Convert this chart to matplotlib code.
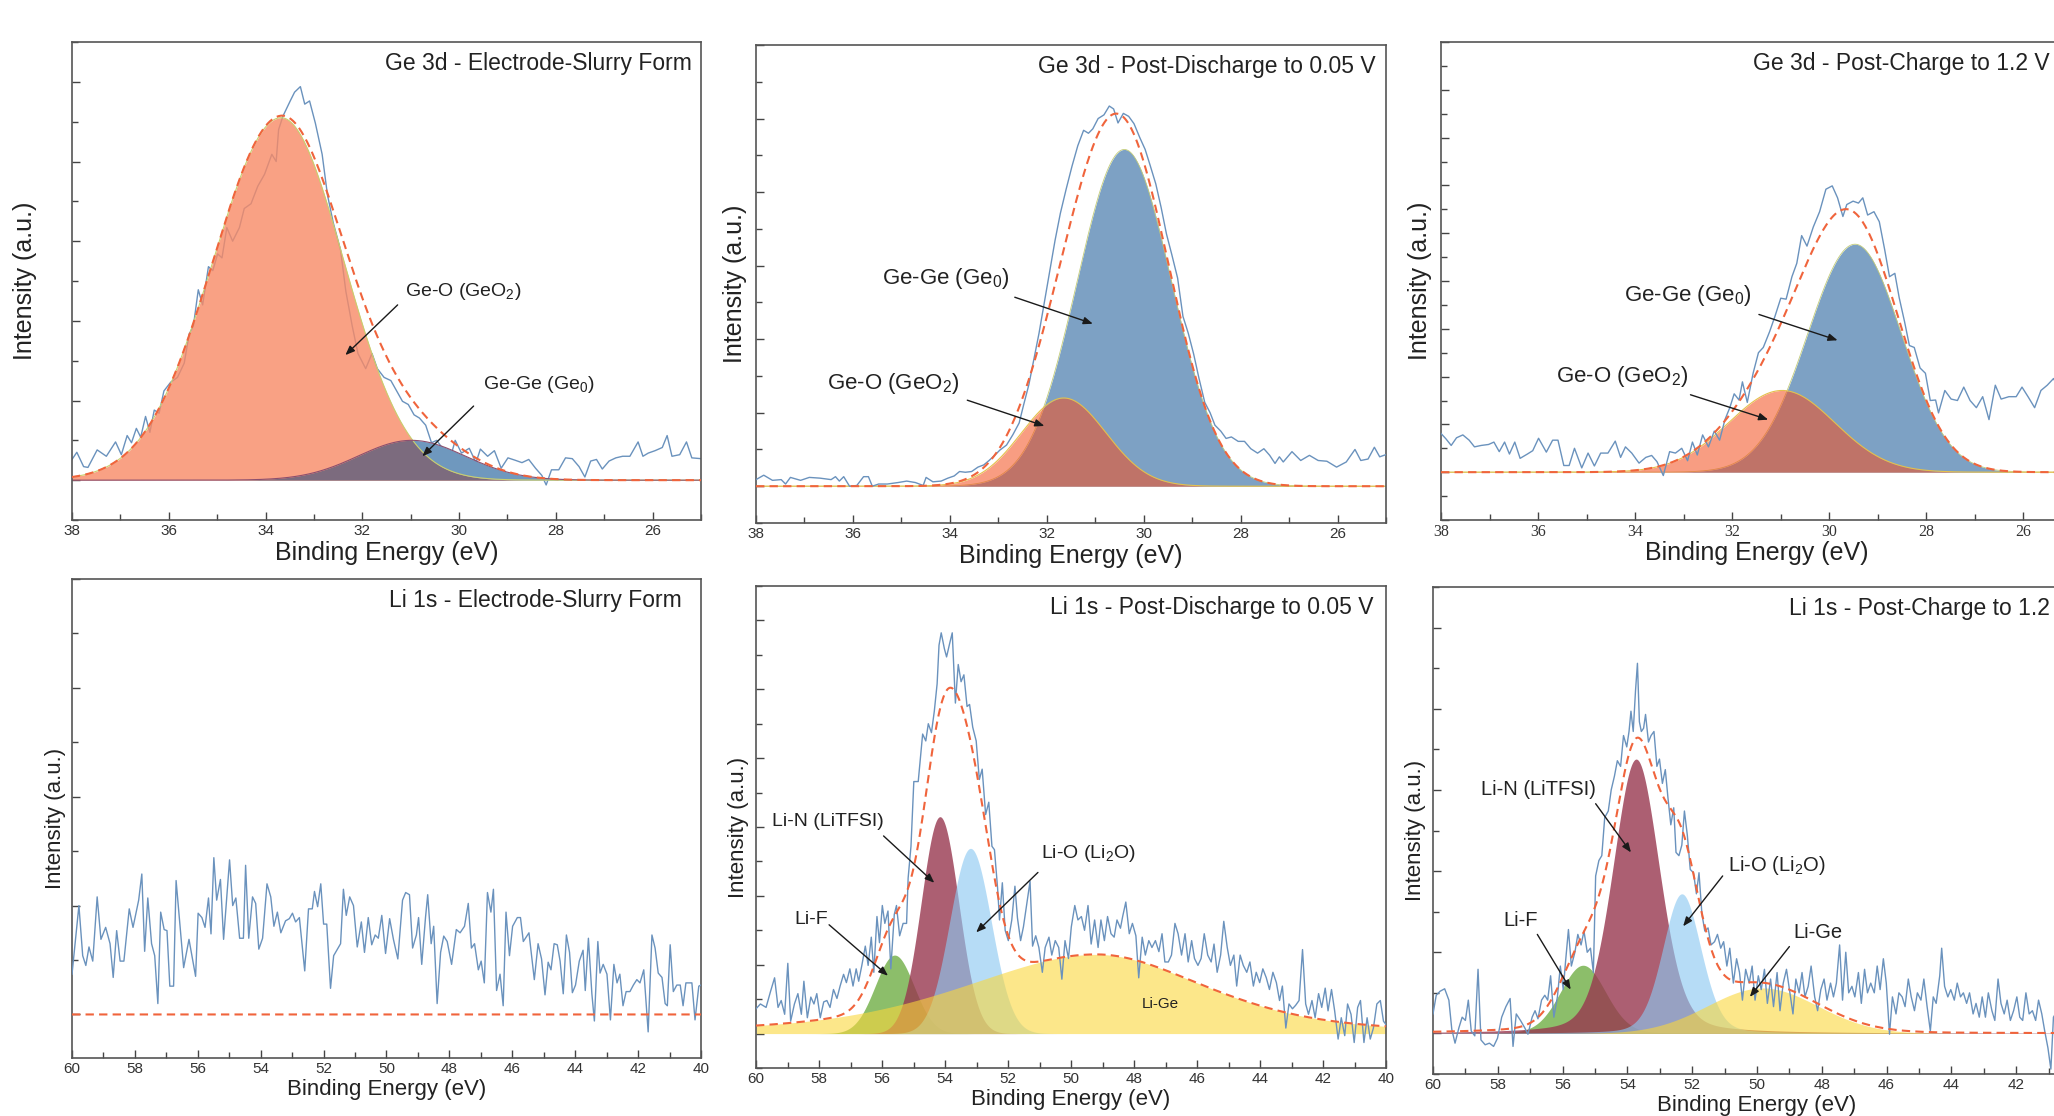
import numpy as np
import matplotlib.pyplot as plt
from matplotlib.ticker import MultipleLocator

plt.rcParams['font.family'] = ['Liberation Sans', 'DejaVu Sans']
plt.rcParams['mathtext.default'] = 'regular'

# ---------------- raw spectra: (binding energy eV, intensity a.u.) ----------------
ge_slurry_raw = [
    (38.0, 0.26), (37.9, 0.35), (37.76, 0.17), (37.67, 0.16), (37.48, 0.38), (37.29, 0.30), (37.1, 0.48),
    (36.98, 0.32), (36.86, 0.56), (36.77, 0.47), (36.67, 0.65), (36.58, 0.54), (36.48, 0.80), (36.39, 0.60),
    (36.3, 0.88), (36.2, 0.84), (36.1, 1.12), (35.96, 1.23), (35.82, 1.29), (35.68, 1.47), (35.58, 1.83),
    (35.49, 1.94), (35.39, 2.39), (35.3, 2.20), (35.18, 2.68), (35.09, 2.63), (34.99, 2.84), (34.9, 2.79),
    (34.8, 3.17), (34.68, 3.00), (34.54, 3.17), (34.44, 3.41), (34.3, 3.47), (34.16, 3.69), (34.02, 3.84),
    (33.87, 4.09), (33.78, 4.00), (33.73, 4.40), (33.64, 4.57), (33.49, 4.76), (33.4, 4.87), (33.28, 4.94),
    (33.19, 4.72), (33.09, 4.76), (32.97, 4.48), (32.83, 4.09), (32.72, 3.58), (32.6, 3.23), (32.45, 2.89),
    (32.34, 2.37), (32.21, 1.94), (32.09, 1.59), (31.93, 1.40), (31.8, 1.59), (31.69, 1.40), (31.55, 1.29),
    (31.41, 1.25), (31.29, 1.12), (31.17, 0.99), (31.05, 0.95), (30.93, 0.82), (30.82, 0.78), (30.69, 0.69),
    (30.57, 0.47), (30.46, 0.50), (30.31, 0.37), (30.19, 0.26), (30.08, 0.50), (29.95, 0.34), (29.79, 0.40),
    (29.65, 0.22), (29.56, 0.39), (29.41, 0.30), (29.27, 0.37), (29.13, 0.15), (28.99, 0.28), (28.84, 0.25),
    (28.7, 0.22), (28.56, 0.26), (28.42, 0.15), (28.29, 0.06), (28.2, -0.06), (28.09, 0.13), (27.94, 0.13),
    (27.8, 0.28), (27.66, 0.27), (27.52, 0.17), (27.4, 0.04), (27.28, 0.24), (27.16, 0.26), (27.04, 0.14),
    (26.9, 0.24), (26.76, 0.28), (26.62, 0.30), (26.47, 0.30), (26.3, 0.48), (26.2, 0.30), (26.09, 0.34),
    (25.95, 0.37), (25.8, 0.41), (25.7, 0.56), (25.6, 0.30), (25.44, 0.32), (25.3, 0.48), (25.19, 0.28),
    (25.0, 0.27),
]

ge_discharge_raw = [
    (38.0, 0.09), (37.84, 0.15), (37.66, 0.08), (37.48, 0.09), (37.39, 0.03), (37.29, 0.12), (37.08, 0.08),
    (36.9, 0.12), (36.68, 0.11), (36.45, 0.09), (36.36, 0.13), (36.28, 0.07), (36.19, 0.13), (36.07, 0.0),
    (35.92, 0.01), (35.78, 0.13), (35.68, 0.13), (35.6, 0.0), (35.47, 0.03), (35.29, 0.03), (35.07, 0.05),
    (34.89, 0.07), (34.71, 0.05), (34.55, 0.01), (34.49, 0.12), (34.35, 0.06), (34.18, 0.07), (34.04, 0.11),
    (33.91, 0.14), (33.8, 0.20), (33.68, 0.19), (33.55, 0.20), (33.42, 0.26), (33.3, 0.29), (33.19, 0.35),
    (33.06, 0.43), (32.97, 0.49), (32.83, 0.56), (32.7, 0.70), (32.57, 0.86), (32.48, 1.10), (32.37, 1.38),
    (32.28, 1.68), (32.16, 2.08), (32.05, 2.50), (31.94, 2.92), (31.83, 3.34), (31.72, 3.71), (31.6, 4.04),
    (31.48, 4.35), (31.36, 4.63), (31.24, 4.84), (31.14, 4.80), (31.05, 4.86), (30.94, 5.00), (30.82, 5.05),
    (30.71, 5.17), (30.62, 5.13), (30.53, 4.94), (30.42, 5.07), (30.31, 5.03), (30.2, 4.93), (30.08, 4.74),
    (29.97, 4.58), (29.87, 4.37), (29.75, 4.11), (29.64, 3.79), (29.53, 3.43), (29.42, 3.15), (29.3, 2.83),
    (29.19, 2.31), (29.08, 2.08), (28.97, 1.80), (28.86, 1.47), (28.74, 1.14), (28.63, 1.00), (28.53, 0.83),
    (28.41, 0.75), (28.3, 0.65), (28.19, 0.67), (28.05, 0.61), (27.92, 0.61), (27.79, 0.51), (27.65, 0.45),
    (27.52, 0.51), (27.4, 0.42), (27.29, 0.31), (27.2, 0.40), (27.12, 0.33), (26.94, 0.47), (26.76, 0.35),
    (26.58, 0.42), (26.4, 0.35), (26.22, 0.34), (26.02, 0.26), (25.82, 0.33), (25.64, 0.50), (25.52, 0.35),
    (25.37, 0.37), (25.24, 0.53), (25.13, 0.40), (25.0, 0.43),
]

ge_charge_raw = [
    (38.0, 0.81), (37.9, 0.70), (37.79, 0.56), (37.68, 0.72), (37.55, 0.78), (37.42, 0.67), (37.31, 0.53),
    (37.17, 0.56), (37.02, 0.58), (36.91, 0.63), (36.8, 0.43), (36.69, 0.63), (36.59, 0.38), (36.48, 0.63),
    (36.37, 0.29), (36.22, 0.38), (36.11, 0.45), (35.99, 0.71), (35.83, 0.42), (35.7, 0.67), (35.59, 0.67),
    (35.47, 0.14), (35.36, 0.14), (35.25, 0.50), (35.1, 0.09), (34.97, 0.40), (34.84, 0.13), (34.71, 0.40),
    (34.56, 0.40), (34.41, 0.65), (34.3, 0.31), (34.2, 0.53), (34.07, 0.40), (33.92, 0.19), (33.78, 0.31),
    (33.66, 0.35), (33.55, 0.22), (33.42, -0.07), (33.29, 0.43), (33.17, 0.40), (33.04, 0.50), (32.92, 0.24),
    (32.82, 0.63), (32.72, 0.36), (32.61, 0.78), (32.49, 0.53), (32.37, 0.86), (32.26, 0.67), (32.15, 1.10),
    (32.05, 1.35), (31.96, 1.64), (31.86, 1.51), (31.79, 1.89), (31.69, 1.46), (31.57, 2.07), (31.46, 2.50),
    (31.36, 2.61), (31.23, 2.94), (31.12, 3.26), (31.0, 3.64), (30.89, 3.62), (30.77, 4.09), (30.67, 4.37),
    (30.57, 4.95), (30.46, 4.73), (30.33, 5.13), (30.2, 5.45), (30.07, 5.92), (29.94, 5.99), (29.83, 5.74),
    (29.72, 5.35), (29.64, 5.60), (29.51, 5.67), (29.4, 5.63), (29.31, 5.74), (29.21, 5.38), (29.08, 5.45),
    (28.97, 5.24), (28.86, 4.66), (28.76, 4.09), (28.65, 4.16), (28.56, 3.65), (28.45, 3.15), (28.35, 2.65),
    (28.25, 2.61), (28.13, 2.18), (28.02, 2.07), (27.92, 1.50), (27.81, 1.51), (27.75, 1.24), (27.62, 1.71),
    (27.49, 1.53), (27.36, 1.50), (27.23, 1.78), (27.1, 1.50), (26.97, 1.35), (26.84, 1.58), (26.71, 1.10),
    (26.58, 1.82), (26.46, 1.53), (26.3, 1.58), (26.15, 1.58), (26.03, 1.78), (25.9, 1.57), (25.77, 1.35),
    (25.64, 1.71), (25.51, 1.82), (25.38, 1.96), (25.25, 1.70), (25.1, 1.85), (25.0, 1.75),
]

li_slurry_raw = [
    (60.0, 0.37), (59.78, 1.00), (59.66, 0.54), (59.56, 0.45), (59.46, 0.62), (59.34, 0.49), (59.2, 1.08),
    (59.08, 0.69), (58.93, 0.80), (58.79, 0.65), (58.69, 0.34), (58.58, 0.77), (58.47, 0.49), (58.35, 0.49),
    (58.18, 0.97), (58.06, 0.80), (57.88, 1.05), (57.78, 1.29), (57.69, 0.58), (57.59, 1.07), (57.47, 0.65),
    (57.37, 0.54), (57.27, 0.10), (57.18, 0.94), (57.07, 0.78), (56.98, 0.77), (56.89, 0.26), (56.77, 0.26),
    (56.69, 1.23), (56.57, 0.83), (56.45, 0.43), (56.28, 0.69), (56.07, 0.35), (55.99, 0.93), (55.87, 0.89),
    (55.77, 0.80), (55.66, 1.07), (55.58, 0.74), (55.49, 1.44), (55.4, 1.05), (55.28, 1.24), (55.18, 0.69),
    (55.08, 1.07), (54.99, 1.42), (54.89, 1.00), (54.79, 1.07), (54.67, 0.70), (54.55, 0.70), (54.48, 1.37),
    (54.38, 0.70), (54.26, 1.08), (54.16, 1.02), (54.06, 0.60), (53.94, 0.70), (53.8, 1.20), (53.68, 1.08),
    (53.58, 0.81), (53.47, 0.94), (53.36, 0.75), (53.21, 0.86), (53.09, 0.88), (52.99, 0.93), (52.89, 0.85),
    (52.77, 0.89), (52.6, 0.40), (52.48, 0.97), (52.36, 0.97), (52.29, 1.13), (52.19, 0.99), (52.09, 1.20),
    (52.0, 0.83), (51.9, 0.83), (51.78, 0.24), (51.68, 0.54), (51.58, 0.59), (51.46, 0.65), (51.37, 1.15),
    (51.28, 0.91), (51.17, 1.08), (51.05, 1.00), (50.93, 0.62), (50.8, 0.85), (50.7, 0.57), (50.58, 0.89),
    (50.47, 0.64), (50.36, 0.73), (50.26, 0.70), (50.15, 0.91), (50.03, 0.56), (49.9, 0.88), (49.78, 0.69),
    (49.64, 0.51), (49.49, 1.05), (49.39, 1.12), (49.27, 1.10), (49.17, 0.61), (49.05, 0.73), (48.98, 0.89),
    (48.88, 0.46), (48.76, 0.89), (48.69, 1.10), (48.58, 0.65), (48.5, 0.81), (48.39, 0.10), (48.28, 0.57),
    (48.18, 0.72), (48.07, 0.67), (47.93, 0.46), (47.78, 0.78), (47.66, 0.75), (47.52, 0.81), (47.4, 1.02),
    (47.3, 0.61), (47.2, 0.65), (47.08, 0.41), (46.99, 0.49), (46.89, 0.29), (46.79, 1.12), (46.68, 0.94),
    (46.6, 1.15), (46.5, 0.22), (46.39, 0.37), (46.29, 0.08), (46.2, 0.94), (46.09, 0.54), (45.99, 0.81),
    (45.84, 0.89), (45.74, 0.89), (45.65, 0.67), (45.47, 0.75), (45.3, 0.32), (45.18, 0.65), (45.07, 0.51),
    (44.96, 0.18), (44.86, 0.48), (44.77, 0.41), (44.67, 0.65), (44.57, 0.64), (44.48, 0.49), (44.38, 0.19),
    (44.28, 0.73), (44.18, 0.57), (44.09, 0.20), (43.99, 0.27), (43.87, 0.49), (43.75, 0.59), (43.68, 0.22),
    (43.58, 0.70), (43.47, 0.19), (43.39, -0.06), (43.28, 0.67), (43.21, 0.38), (43.11, 0.46), (42.99, 0.37),
    (42.88, -0.05), (42.77, 0.46), (42.67, 0.29), (42.58, 0.37), (42.48, 0.08), (42.38, 0.21), (42.26, 0.21),
    (42.15, 0.27), (42.04, 0.32), (41.94, 0.29), (41.82, 0.41), (41.75, 0.13), (41.68, -0.16), (41.56, 0.73),
    (41.46, 0.61), (41.36, 0.38), (41.24, 0.34), (41.14, 0.10), (41.07, 0.08), (40.98, 0.64), (40.88, 0.21),
    (40.77, 0.27), (40.66, 0.27), (40.57, 0.08), (40.48, 0.29), (40.36, 0.29), (40.29, 0.29), (40.19, -0.05),
    (40.07, 0.26), (40.0, 0.27),
]

li_discharge_raw = [
    (60.0, 0.36), (59.86, 0.43), (59.68, 0.38), (59.54, 0.61), (59.41, 0.81), (59.3, 0.38), (59.2, 0.48),
    (59.09, 0.28), (58.99, 1.02), (58.9, 0.18), (58.78, 0.43), (58.67, 0.58), (58.56, 0.28), (58.48, 0.76),
    (58.37, 0.23), (58.26, 0.53), (58.16, 0.43), (58.07, 0.58), (57.96, 0.23), (57.85, 0.46), (57.75, 0.48),
    (57.65, 0.38), (57.54, 0.64), (57.43, 0.51), (57.33, 0.69), (57.22, 0.86), (57.13, 0.74), (57.02, 0.94),
    (56.92, 0.69), (56.82, 0.94), (56.74, 0.76), (56.64, 0.99), (56.53, 1.27), (56.44, 0.99), (56.34, 1.40),
    (56.26, 0.89), (56.16, 1.70), (56.08, 1.32), (55.99, 1.86), (55.91, 1.60), (55.81, 1.78), (55.72, 0.94),
    (55.61, 1.73), (55.54, 1.86), (55.44, 1.42), (55.33, 1.60), (55.22, 1.60), (55.17, 2.26), (55.08, 2.72),
    (54.99, 3.66), (54.85, 3.66), (54.71, 4.35), (54.61, 4.25), (54.53, 4.50), (54.43, 4.37), (54.34, 4.68),
    (54.25, 5.08), (54.19, 5.64), (54.12, 5.82), (54.02, 5.59), (53.95, 5.47), (53.85, 5.67), (53.77, 5.82),
    (53.67, 4.80), (53.58, 5.36), (53.49, 5.11), (53.4, 5.21), (53.3, 4.75), (53.22, 4.78), (53.12, 4.45),
    (53.01, 4.25), (52.91, 3.69), (52.82, 3.84), (52.71, 3.18), (52.61, 3.36), (52.51, 2.72), (52.43, 2.67),
    (52.33, 2.11), (52.27, 1.65), (52.18, 2.19), (52.09, 1.50), (51.99, 1.35), (51.88, 1.65), (51.78, 2.14),
    (51.7, 1.68), (51.6, 1.35), (51.51, 1.55), (51.39, 1.93), (51.3, 2.21), (51.22, 1.27), (51.12, 1.42),
    (51.02, 1.25), (50.91, 0.89), (50.82, 1.25), (50.7, 1.40), (50.61, 1.14), (50.5, 1.35), (50.39, 1.25),
    (50.29, 0.79), (50.19, 1.35), (50.08, 1.09), (49.99, 1.55), (49.88, 1.86), (49.78, 1.65), (49.67, 1.70),
    (49.57, 1.50), (49.46, 1.86), (49.36, 1.30), (49.25, 1.65), (49.14, 1.25), (49.05, 1.65), (48.94, 1.35),
    (48.84, 1.70), (48.73, 1.45), (48.63, 1.40), (48.54, 1.65), (48.43, 1.53), (48.36, 1.70), (48.26, 1.91),
    (48.15, 1.45), (48.05, 1.60), (47.94, 1.42), (47.85, 0.81), (47.74, 1.40), (47.64, 1.14), (47.53, 1.35),
    (47.43, 1.25), (47.32, 1.35), (47.21, 1.19), (47.11, 1.45), (47.02, 1.04), (46.91, 1.04), (46.81, 1.14),
    (46.7, 1.60), (46.6, 1.45), (46.49, 1.14), (46.38, 1.45), (46.28, 1.04), (46.17, 1.35), (46.08, 1.09),
    (45.97, 0.99), (45.87, 1.09), (45.77, 1.45), (45.66, 1.14), (45.55, 1.04), (45.46, 1.30), (45.36, 0.89),
    (45.25, 1.14), (45.15, 1.63), (45.04, 1.25), (44.94, 0.99), (44.83, 1.14), (44.74, 0.69), (44.63, 1.14),
    (44.53, 0.99), (44.42, 0.89), (44.32, 1.04), (44.21, 0.69), (44.12, 0.89), (44.01, 0.74), (43.91, 0.94),
    (43.8, 0.81), (43.7, 0.64), (43.59, 0.89), (43.48, 0.74), (43.38, 0.48), (43.29, 0.69), (43.18, 0.08),
    (43.08, 0.43), (42.97, 0.36), (42.87, 0.41), (42.76, 0.48), (42.65, 1.22), (42.55, 0.43), (42.46, 0.28),
    (42.35, 0.48), (42.25, 0.23), (42.14, 0.58), (42.04, 0.38), (41.93, 0.66), (41.84, 0.33), (41.73, 0.64),
    (41.63, 0.33), (41.52, -0.08), (41.42, 0.23), (41.31, -0.03), (41.22, 0.43), (41.11, 0.28), (41.01, -0.13),
    (40.9, 0.38), (40.81, 0.48), (40.7, -0.13), (40.6, 0.23), (40.5, -0.08), (40.4, 0.08), (40.29, 0.43),
    (40.18, 0.48), (40.08, 0.18), (40.0, 0.13),
]

li_charge_raw = [
    (60.0, 0.24), (59.9, 0.47), (59.78, 0.52), (59.64, 0.55), (59.51, 0.41), (59.42, 0.05), (59.32, -0.12),
    (59.2, 0.07), (59.1, 0.20), (59.0, 0.16), (58.91, 0.41), (58.82, 0.03), (58.71, -0.03), (58.61, 0.79),
    (58.52, -0.08), (58.39, -0.14), (58.26, -0.12), (58.13, -0.16), (58.01, -0.06), (57.88, 0.20), (57.75, 0.33),
    (57.62, 0.43), (57.53, -0.16), (57.43, 0.24), (57.3, 0.16), (57.17, 0.07), (57.07, -0.01), (56.94, 0.20),
    (56.85, 0.28), (56.76, 0.18), (56.65, 0.41), (56.55, 0.47), (56.46, 0.41), (56.37, 0.71), (56.27, 0.20),
    (56.16, 0.45), (56.07, 0.83), (55.98, 0.54), (55.91, 0.88), (55.82, 1.28), (55.73, 0.83), (55.62, 1.00),
    (55.53, 1.22), (55.43, 1.09), (55.34, 1.26), (55.24, 1.00), (55.14, 1.05), (55.05, 0.75), (54.98, 1.94),
    (54.88, 2.13), (54.79, 2.19), (54.7, 2.66), (54.59, 2.74), (54.5, 3.00), (54.4, 3.17), (54.31, 3.36),
    (54.21, 3.29), (54.12, 3.67), (54.02, 3.53), (53.95, 3.72), (53.89, 3.97), (53.82, 3.72), (53.75, 4.22),
    (53.69, 4.56), (53.63, 3.84), (53.57, 3.72), (53.5, 3.76), (53.44, 3.93), (53.35, 3.59), (53.27, 3.67),
    (53.18, 3.72), (53.09, 3.29), (53.01, 3.38), (52.92, 3.08), (52.83, 3.25), (52.75, 2.91), (52.66, 2.57),
    (52.57, 2.78), (52.5, 2.23), (52.41, 2.19), (52.32, 2.32), (52.24, 2.74), (52.15, 2.44), (52.06, 2.02),
    (51.96, 1.98), (51.87, 1.72), (51.79, 1.98), (51.7, 1.47), (51.61, 1.26), (51.51, 1.30), (51.42, 1.09),
    (51.31, 1.13), (51.22, 1.22), (51.12, 1.05), (51.03, 1.13), (50.93, 0.83), (50.84, 1.05), (50.73, 0.62),
    (50.63, 0.92), (50.54, 0.75), (50.45, 0.41), (50.35, 0.79), (50.24, 0.62), (50.15, 0.83), (50.06, 0.41),
    (49.96, 0.71), (49.87, 0.54), (49.77, 0.79), (49.68, 0.37), (49.58, 0.67), (49.49, 0.33), (49.38, 0.75),
    (49.29, 0.28), (49.19, 0.62), (49.09, 0.79), (49.0, 0.54), (48.89, 0.24), (48.8, 0.67), (48.7, 0.50),
    (48.61, 0.75), (48.52, 0.45), (48.42, 0.58), (48.33, 0.83), (48.22, 0.45), (48.13, 0.28), (48.03, 0.54),
    (47.93, 0.67), (47.84, 0.41), (47.73, 0.62), (47.64, 0.45), (47.55, 0.62), (47.45, 1.09), (47.36, 0.41),
    (47.26, 1.00), (47.17, 0.50), (47.07, 0.58), (46.98, 0.45), (46.87, 0.75), (46.78, 0.37), (46.68, 0.79),
    (46.59, 0.50), (46.49, 0.62), (46.38, 0.50), (46.29, 0.83), (46.2, 0.54), (46.1, 0.92), (46.01, 0.62),
    (45.91, -0.01), (45.82, 0.45), (45.71, 0.24), (45.62, 0.50), (45.52, 0.45), (45.43, 0.33), (45.33, 0.67),
    (45.24, 0.45), (45.14, 0.28), (45.05, 0.50), (44.94, 0.41), (44.85, 0.67), (44.75, 0.33), (44.65, 0.03),
    (44.56, 0.45), (44.47, 0.37), (44.36, 0.71), (44.3, 1.05), (44.21, 0.58), (44.11, 0.45), (44.02, 0.54),
    (43.91, 0.41), (43.82, 0.62), (43.72, 0.45), (43.63, 0.50), (43.53, 0.37), (43.44, 0.50), (43.33, 0.24),
    (43.24, 0.37), (43.14, 0.20), (43.05, 0.45), (42.95, 0.20), (42.86, 0.50), (42.75, 0.28), (42.66, 0.16),
    (42.56, 0.67), (42.47, 0.37), (42.37, 0.24), (42.28, 0.41), (42.18, 0.16), (42.08, 0.28), (41.98, 0.45),
    (41.89, 0.20), (41.8, 0.16), (41.7, 0.50), (41.6, 0.24), (41.5, 0.28), (41.4, 0.16), (41.31, 0.41),
    (41.21, 0.24), (41.12, 0.03), (41.02, -0.18), (40.93, -0.44), (40.85, 0.20), (40.7, 0.30), (40.5, 0.15),
    (40.3, 0.35), (40.1, 0.20), (40.0, 0.25),
]

# ---------------- fitted components ----------------
# per panel: component names, centre (eV), height, FWHM high-BE side, FWHM low-BE side, Lorentzian fraction
ge_slurry_names = ['Ge-O', 'Ge-Ge']
ge_slurry_centre = [33.68, 30.98]
ge_slurry_height = [4.55, 0.50]
ge_slurry_fwhm_hi = [3.30, 2.60]
ge_slurry_fwhm_lo = [3.05, 2.60]
ge_slurry_eta = [0.0, 0.0]

ge_discharge_names = ['Ge-Ge', 'Ge-O']
ge_discharge_centre = [30.40, 31.65]
ge_discharge_height = [4.58, 1.20]
ge_discharge_fwhm_hi = [2.30, 2.05]
ge_discharge_fwhm_lo = [2.30, 2.05]
ge_discharge_eta = [0.0, 0.0]

ge_charge_names = ['Ge-Ge', 'Ge-O']
ge_charge_centre = [29.47, 30.97]
ge_charge_height = [4.77, 1.71]
ge_charge_fwhm_hi = [2.30, 2.60]
ge_charge_fwhm_lo = [2.25, 2.55]
ge_charge_eta = [0.0, 0.0]

li_discharge_names = ['Li-F', 'Li-N', 'Li-O', 'Li-Ge']
li_discharge_centre = [55.60, 54.16, 53.19, 49.20]
li_discharge_height = [1.14, 3.15, 2.69, 1.15]
li_discharge_fwhm_hi = [1.45, 1.40, 1.55, 10.0]
li_discharge_fwhm_lo = [1.45, 1.40, 1.55, 8.2]
li_discharge_eta = [0.0, 0.0, 0.0, 0.45]

li_charge_names = ['Li-F', 'Li-N', 'Li-O', 'Li-Ge']
li_charge_centre = [55.37, 53.73, 52.32, 49.83]
li_charge_height = [0.84, 3.38, 1.72, 0.56]
li_charge_fwhm_hi = [1.65, 1.70, 1.40, 4.0]
li_charge_fwhm_lo = [1.65, 1.70, 1.40, 4.0]
li_charge_eta = [0.1, 0.25, 0.2, 0.0]


def peak(x, c, h, w_hi, w_lo, eta):
    w = np.where(x >= c, w_hi, w_lo)
    u = (x - c) / w
    return h * ((1 - eta) * np.exp(-4 * np.log(2) * u ** 2) + eta / (1 + 4 * u ** 2))


def components(x, centre, height, w_hi, w_lo, eta):
    return [peak(x, *p) for p in zip(centre, height, w_hi, w_lo, eta)]


W, H = 2054, 1116
fig = plt.figure(figsize=(W / 100, H / 100), dpi=100)


def box(left, top, right, bottom):
    return fig.add_axes([left / W, 1 - bottom / H, (right - left) / W, (bottom - top) / H])


RAW = '#6a92bd'
ENV = '#f0643c'
ARROW = dict(arrowstyle='-|>,head_length=0.55,head_width=0.22', color='#1a1a1a', lw=1.0,
             shrinkA=0, shrinkB=0)


def style(ax, xlim, ylim, title, title_x, lab_fs, ylab_x, serif_ticks=False):
    ax.set_xlim(*xlim)
    ax.set_ylim(*ylim)
    ax.xaxis.set_major_locator(MultipleLocator(2))
    ax.xaxis.set_minor_locator(MultipleLocator(1))
    ax.yaxis.set_major_locator(MultipleLocator(1))
    ax.yaxis.set_minor_locator(MultipleLocator(0.5))
    ax.tick_params(which='both', direction='in', top=False, right=False, labelleft=False,
                   color='#444', width=1.0)
    ax.tick_params(which='major', length=6)
    ax.tick_params(which='minor', length=4)
    ax.tick_params(axis='x', labelsize=11, pad=3, labelcolor='#333')
    if serif_ticks:
        ax.tick_params(axis='x', labelfontfamily='Liberation Serif', labelsize=11.5)
    for s in ax.spines.values():
        s.set_color('#555')
        s.set_linewidth(1.2)
    ax.set_xlabel('Binding Energy (eV)', fontsize=lab_fs, color='#222')
    ax.set_ylabel('Intensity (a.u.)', fontsize=lab_fs, color='#222')
    ax.xaxis.set_label_coords(0.5, -0.043)
    ax.yaxis.set_label_coords(ylab_x, 0.5)
    ax.text(title_x, 0.955, title, transform=ax.transAxes, ha='right', va='center',
            fontsize=16.5, color='#222')


def note(ax, text, pos, tail, tip, fs):
    ax.text(pos[0], pos[1], text, ha='left', va='center', fontsize=fs, color='#222', zorder=6)
    if tail is not None:
        ax.annotate('', xy=tip, xytext=tail, arrowprops=ARROW, zorder=6)


xg = np.linspace(38, 25, 900)
xl = np.linspace(60, 40, 1200)

# ---------------- Ge 3d - electrode slurry ----------------
ax = box(72, 42, 701, 520)
be, it = np.array(ge_slurry_raw).T
geo, gege = components(xg, ge_slurry_centre, ge_slurry_height, ge_slurry_fwhm_hi,
                       ge_slurry_fwhm_lo, ge_slurry_eta)
ax.plot(be, it, color=RAW, lw=1.0, zorder=1)
ax.fill_between(xg, 0, geo, color='#f88a66', alpha=0.8, lw=0, zorder=2)
ax.fill_between(xg, geo, gege, where=gege > geo, color='#6f98be', lw=0, zorder=2.1)
ax.fill_between(xg, 0, np.minimum(geo, gege), color='#7c6b7e', lw=0, zorder=2.2)
ax.plot(xg, geo, color='#c8cf6e', lw=0.8, zorder=2.3)
ax.plot(xg, gege, color='#8c4f6e', lw=0.8, zorder=2.3)
ax.plot(xg, geo + gege, color=ENV, lw=1.5, ls=(0, (4, 2.5)), zorder=4)
style(ax, (38, 25), (-0.5, 5.5), 'Ge 3d - Electrode-Slurry Form', 0.985, 18, -0.056)
note(ax, 'Ge-O (GeO$_2$)', (31.12, 2.37), (31.27, 2.2), (32.35, 1.57), 14)
note(ax, 'Ge-Ge (Ge$_0$)', (29.5, 1.2), (29.7, 0.93), (30.76, 0.30), 14)

# ---------------- Ge 3d - post discharge / post charge ----------------
ge_sets = [
    ((756, 45, 1386, 523), ge_discharge_raw, ge_discharge_centre, ge_discharge_height,
     ge_discharge_fwhm_hi, ge_discharge_fwhm_lo, ge_discharge_eta, (-0.5, 6.0),
     'Ge 3d - Post-Discharge to 0.05 V', 0.983, False),
    ((1441, 42, 2072, 520), ge_charge_raw, ge_charge_centre, ge_charge_height,
     ge_charge_fwhm_hi, ge_charge_fwhm_lo, ge_charge_eta, (-1.0, 9.0),
     'Ge 3d - Post-Charge to 1.2 V', 0.965, True),
]
ge_axes = []
for rect, raw, c, h, whi, wlo, eta, ylim, title, tx, serif in ge_sets:
    ax = box(*rect)
    be, it = np.array(raw).T
    gege, geo = components(xg, c, h, whi, wlo, eta)
    ax.plot(be, it, color=RAW, lw=1.0, zorder=3)
    ax.fill_between(xg, 0, gege, color='#7da1c4', lw=0, zorder=2)
    ax.plot(xg, gege, color='#c3cc7a', lw=0.6, zorder=2.1)
    ax.fill_between(xg, 0, geo, color='#f45020', alpha=0.56, lw=0, zorder=2.2)
    ax.plot(xg, geo, color='#e5c04c', lw=0.8, zorder=2.3)
    ax.plot(xg, geo + gege, color=ENV, lw=1.5, ls=(0, (4, 2.5)), zorder=4)
    style(ax, (38, 25), ylim, title, tx, 18, -0.014, serif_ticks=serif)
    ge_axes.append(ax)

note(ge_axes[0], 'Ge-Ge (Ge$_0$)', (35.41, 2.83), (32.66, 2.57), (31.05, 2.21), 16)
note(ge_axes[0], 'Ge-O (GeO$_2$)', (36.54, 1.40), (33.64, 1.17), (32.05, 0.82), 16)
note(ge_axes[1], 'Ge-Ge (Ge$_0$)', (34.24, 3.69), (31.45, 3.30), (29.83, 2.76), 16)
note(ge_axes[1], 'Ge-O (GeO$_2$)', (35.64, 2.00), (32.86, 1.62), (31.26, 1.10), 16)

# ---------------- Li 1s - electrode slurry ----------------
ax = box(72, 579, 701, 1058)
be, it = np.array(li_slurry_raw).T
ax.plot(be, it, color=RAW, lw=1.0, zorder=3)
ax.plot(xl, np.zeros_like(xl), color=ENV, lw=1.5, ls=(0, (4, 2.5)), zorder=4)
style(ax, (60, 40), (-0.4, 4.0), 'Li 1s - Electrode-Slurry Form', 0.97, 16, -0.010)

# ---------------- Li 1s - post discharge / post charge ----------------
li_colors = [('#78b350', 0.85), ('#98374f', 0.8), ('#8cc9f2', 0.63), ('#fad73c', 0.6)]
li_sets = [
    ((756, 586, 1386, 1068), li_discharge_raw, li_discharge_centre, li_discharge_height,
     li_discharge_fwhm_hi, li_discharge_fwhm_lo, li_discharge_eta, (-0.5, 6.5),
     'Li 1s - Post-Discharge to 0.05 V', 0.98),
    ((1433, 587, 2081, 1074), li_charge_raw, li_charge_centre, li_charge_height,
     li_charge_fwhm_hi, li_charge_fwhm_lo, li_charge_eta, (-0.5, 5.5),
     'Li 1s - Post-Charge to 1.2 V', 0.985),
]
li_axes = []
for rect, raw, c, h, whi, wlo, eta, ylim, title, tx in li_sets:
    ax = box(*rect)
    be, it = np.array(raw).T
    comps = components(xl, c, h, whi, wlo, eta)
    ax.plot(be, it, color=RAW, lw=1.0, zorder=3)
    for k, (y, (col, a)) in enumerate(zip(comps, li_colors)):
        ax.fill_between(xl, 0, y, color=col, alpha=a, lw=0, zorder=2 + 0.1 * k)
    ax.plot(xl, np.sum(comps, axis=0), color=ENV, lw=1.5, ls=(0, (4, 2.5)), zorder=4)
    style(ax, (60, 40), ylim, title, tx, 16, -0.011)
    li_axes.append(ax)

a5, a6 = li_axes
note(a5, 'Li-N (LiTFSI)', (59.5, 3.08), (55.95, 2.87), (54.34, 2.19), 14)
note(a5, 'Li-O (Li$_2$O)', (50.95, 2.62), (51.05, 2.34), (53.01, 1.47), 14)
note(a5, 'Li-F', (58.78, 1.65), (57.68, 1.58), (55.81, 0.84), 14)
note(a5, 'Li-Ge', (47.75, 0.43), None, None, 11)
note(a6, 'Li-N (LiTFSI)', (58.52, 3.0), (54.98, 2.83), (53.89, 2.23), 14.5)
note(a6, 'Li-O (Li$_2$O)', (50.89, 2.07), (51.06, 1.94), (52.28, 1.32), 14.5)
note(a6, 'Li-F', (57.84, 1.39), (56.78, 1.22), (55.75, 0.54), 14.5)
note(a6, 'Li-Ge', (48.87, 1.24), (49.0, 1.07), (50.22, 0.45), 14.5)

fig.savefig('out.png', dpi=100)
